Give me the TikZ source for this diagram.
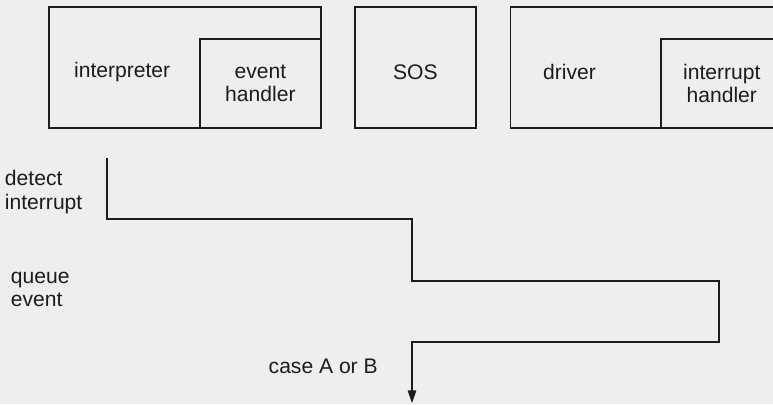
\documentclass[tikz,border=0pt]{standalone}
\usepackage{fontspec}
\setsansfont{Liberation Sans}
\usetikzlibrary{arrows.meta,positioning,calc}
\definecolor{paper}{RGB}{236,238,240}
\definecolor{ink}{RGB}{28,28,30}

\begin{document}
\begin{tikzpicture}[
    box/.style={draw=ink, line width=1.2pt, minimum width=#1, minimum height=3.03cm,
        inner sep=0pt, font=\fontsize{15}{16.5}\selectfont\sffamily, text=ink, align=center},
    inbox/.style={box=3.03cm, minimum height=2.23cm},
    note/.style={font=\fontsize{15}{16.5}\selectfont\sffamily, text=ink, align=left},
    arr/.style={-{Triangle[length=3.2mm,width=2.1mm]}, draw=ink, line width=1.2pt}
]
\useasboundingbox[fill=paper] (0,0) rectangle (19.325,10.1);
\clip (0,0) rectangle (19.325,10.1);

% top row of boxes
\node[box=6.8cm] (interp) at (4.625,8.41) {};
\node[inbox, anchor=south east] (evh) at (interp.south east) {event\\handler};
\node[box=3.03cm, right=0.8cm of interp, text height=16.6pt] (sos) {SOS};
\node[box=6.8cm, right=0.82cm of sos] (drv) {};
\node[inbox, anchor=south east] (irqh) at (drv.south east) {interrupt\\handler};
\node[note] (interpTxt) at ([xshift=1.85cm, yshift=-0.1cm]interp.west) {interpreter};
\node[note] (drvTxt) at ([xshift=1.5cm, yshift=-0.1cm]drv.west) {driver};

% control flow
\coordinate (start) at (2.675,6.15);
\coordinate (qA) at (10.3,4.625);
\coordinate (qB) at (17.975,3.075);
\coordinate (qC) at (10.3,1.55);
\coordinate (stop) at (10.3,0.02);
\draw[arr] (start) |- (qA) |- (qB) |- (qC) -- (stop);

\node[note, anchor=west] (detect) at (0,5.3) {detect\\interrupt};
\node[note, anchor=west] (queue) at (0.15,2.86) {queue\\event};
\node[note] (cases) at (8.08,0.93) {case A or B};
\end{tikzpicture}
\end{document}
